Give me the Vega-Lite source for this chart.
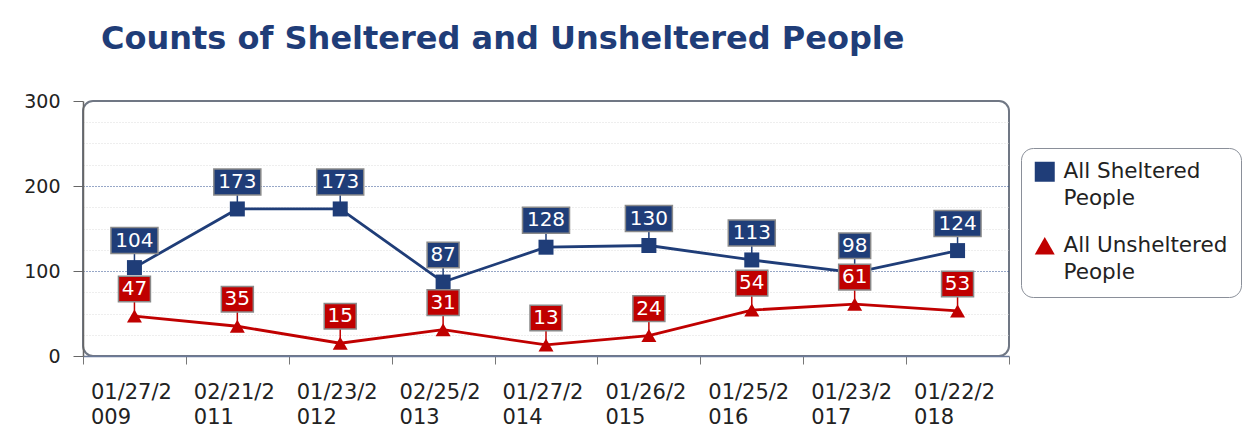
{
  "$schema": "https://vega.github.io/schema/vega-lite/v6.json",
  "width": 926,
  "height": 255,
  "autosize": {"type": "none"},
  "padding": {"left": 83, "top": 101, "right": 242, "bottom": 75},
  "background": "white",
  "title": {
    "text": "Counts of Sheltered and Unsheltered People",
    "anchor": "start",
    "frame": "group",
    "font": "DejaVu Sans",
    "fontSize": 32,
    "fontWeight": "bold",
    "color": "#1F3D78",
    "dx": 18,
    "offset": 11,
    "baseline": "alphabetic"
  },
  "data": {
    "values": [
      {"date": "01/27/2009", "series": "All Sheltered People", "value": 104},
      {"date": "02/21/2011", "series": "All Sheltered People", "value": 173},
      {"date": "01/23/2012", "series": "All Sheltered People", "value": 173},
      {"date": "02/25/2013", "series": "All Sheltered People", "value": 87},
      {"date": "01/27/2014", "series": "All Sheltered People", "value": 128},
      {"date": "01/26/2015", "series": "All Sheltered People", "value": 130},
      {"date": "01/25/2016", "series": "All Sheltered People", "value": 113},
      {"date": "01/23/2017", "series": "All Sheltered People", "value": 98},
      {"date": "01/22/2018", "series": "All Sheltered People", "value": 124},
      {"date": "01/27/2009", "series": "All Unsheltered People", "value": 47},
      {"date": "02/21/2011", "series": "All Unsheltered People", "value": 35},
      {"date": "01/23/2012", "series": "All Unsheltered People", "value": 15},
      {"date": "02/25/2013", "series": "All Unsheltered People", "value": 31},
      {"date": "01/27/2014", "series": "All Unsheltered People", "value": 13},
      {"date": "01/26/2015", "series": "All Unsheltered People", "value": 24},
      {"date": "01/25/2016", "series": "All Unsheltered People", "value": 54},
      {"date": "01/23/2017", "series": "All Unsheltered People", "value": 61},
      {"date": "01/22/2018", "series": "All Unsheltered People", "value": 53}
    ]
  },
  "encoding": {
    "x": {
      "field": "date",
      "type": "ordinal",
      "sort": null,
      "scale": {"type": "band", "paddingInner": 0, "paddingOuter": 0},
      "axis": {
        "title": null,
        "tickBand": "extent",
        "tickSize": 8,
        "tickColor": "#777777",
        "domainColor": "#6b7a99",
        "domainWidth": 1.5,
        "labelAngle": 0,
        "labelAlign": "left",
        "labelBaseline": "top",
        "labelOffset": -44,
        "labelPadding": 17,
        "labelFont": "DejaVu Sans",
        "labelFontSize": 21,
        "labelLineHeight": 25,
        "labelColor": "#222222",
        "labelOverlap": false,
        "labelExpr": "[substring(datum.label, 0, 7), substring(datum.label, 7)]",
        "grid": false
      }
    },
    "y": {
      "field": "value",
      "type": "quantitative",
      "scale": {"domain": [0, 300], "nice": false},
      "axis": {
        "title": null,
        "values": [0, 25, 50, 75, 100, 125, 150, 175, 200, 225, 250, 275, 300],
        "labelExpr": "datum.value % 100 === 0 ? datum.label : ''",
        "labelFont": "DejaVu Sans",
        "labelFontSize": 19,
        "labelColor": "#222222",
        "labelPadding": 13,
        "tickSize": 10,
        "tickColor": "#666666",
        "tickOpacity": {"condition": {"test": "datum.value % 100 === 0", "value": 1}, "value": 0},
        "domainColor": "#666666",
        "domainWidth": 1.5,
        "grid": true,
        "gridColor": {"condition": {"test": "datum.value % 100 === 0", "value": "#2E4F8F"}, "value": "#dddddd"},
        "gridDash": [1, 2],
        "gridOpacity": {"condition": {"test": "datum.value === 0 || datum.value === 300", "value": 0}, "value": 1}
      }
    },
    "color": {
      "field": "series",
      "type": "nominal",
      "scale": {"domain": ["All Sheltered People", "All Unsheltered People"], "range": ["#1F3D78", "#C00000"]},
      "legend": {
        "orient": "none",
        "legendX": 938,
        "legendY": 47,
        "title": null,
        "labelFont": "DejaVu Sans",
        "labelFontSize": 21.5,
        "labelColor": "#222222",
        "labelLimit": 300,
        "labelExpr": "datum.label === 'All Sheltered People' ? ['All Sheltered', 'People'] : ['All Unsheltered', 'People']",
        "symbolSize": 400,
        "symbolStrokeWidth": 0,
        "labelOffset": 8,
        "rowPadding": 24,
        "padding": 13,
        "strokeColor": "#8a8f99",
        "fillColor": "white",
        "cornerRadius": 12,
        "encode": {"labels": {"update": {"lineHeight": {"value": 27}}}}
      }
    }
  },
  "layer": [
    {"mark": {"type": "line", "strokeWidth": 2.8}},
    {"mark": {"type": "rule", "strokeWidth": 1.5, "y2Offset": -15}, "encoding": {"y2": {"field": "value"}}},
    {
      "mark": {"type": "point", "filled": true, "size": 225, "opacity": 1},
      "encoding": {
        "shape": {"field": "series", "type": "nominal", "scale": {"domain": ["All Sheltered People", "All Unsheltered People"], "range": ["square", "triangle-up"]}}
      }
    },
    {
      "mark": {"type": "point", "filled": true, "yOffset": -27, "stroke": "#8a8a8a", "strokeWidth": 1.5, "opacity": 1},
      "encoding": {
        "shape": {"condition": {"test": "datum.value >= 100", "value": "M-1,-0.553L1,-0.553L1,0.553L-1,0.553Z"}, "value": "M-1,-0.8L1,-0.8L1,0.8L-1,0.8Z"},
        "size": {"condition": {"test": "datum.value >= 100", "value": 2209}, "value": 1024}
      }
    },
    {
      "mark": {"type": "text", "yOffset": -27, "fontSize": 20, "font": "DejaVu Sans", "baseline": "middle", "align": "center"},
      "encoding": {"text": {"field": "value"}, "color": {"value": "white"}}
    }
  ],
  "config": {
    "view": {"stroke": "#707784", "strokeWidth": 2, "cornerRadius": 10}
  }
}
